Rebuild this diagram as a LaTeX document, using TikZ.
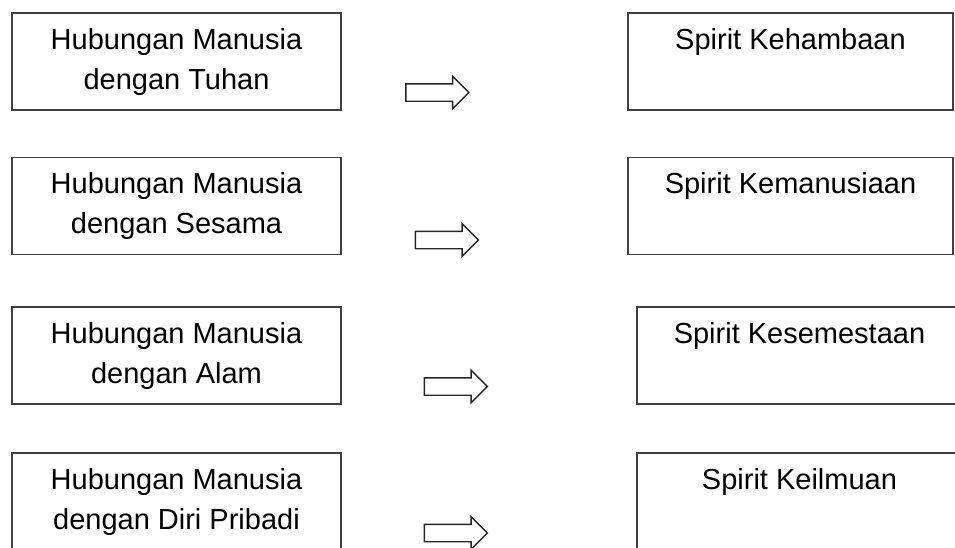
\documentclass[tikz,border=0pt]{standalone}
\usepackage{fontspec}
\setmainfont{Liberation Sans}
\usetikzlibrary{shapes.arrows}
\definecolor{boxline}{HTML}{404040}
\tikzset{
  relbox/.style={draw=boxline, line width=1.8pt, rectangle, align=center,
    minimum width=329pt, minimum height=97pt, inner sep=0pt,
    font=\fontsize{29}{40}\selectfont},
  spiritbox/.style={relbox, minimum width=325pt},
  pointer/.style={draw=black!85, line width=1.4pt, single arrow, inner sep=0pt,
    minimum height=63pt, text height=8pt, text depth=8pt,
    single arrow head extend=7.5pt}
}

\begin{document}
\begin{tikzpicture}[x=1pt, y=-1pt]
  \useasboundingbox (0,0) rectangle (955,547);
  \clip (0,0) rectangle (955,547);
  \node[relbox] (L1) at (176.5,61.5)  {Hubungan Manusia\\dengan Tuhan};
  \node[relbox] (L2) at (176.5,206)   {Hubungan Manusia\\dengan Sesama};
  \node[relbox] (L3) at (176.5,355.5) {Hubungan Manusia\\dengan Alam};
  \node[relbox] (L4) at (176.5,501.5) {Hubungan Manusia\\dengan Diri Pribadi};

  \node[spiritbox] (R1) at (790.5,61.5)  {Spirit Kehambaan\\\vphantom{g}};
  \node[spiritbox] (R2) at (790.5,206)   {Spirit Kemanusiaan\\\vphantom{g}};
  \node[spiritbox] (R3) at (799.5,355.5) {Spirit Kesemestaan\\\vphantom{g}};
  \node[spiritbox] (R4) at (799.5,501.5) {Spirit Keilmuan\\\vphantom{g}};

  \node[pointer] (P1) at (433,92.5)   {};
  \node[pointer] (P2) at (442.5,240)  {};
  \node[pointer] (P3) at (451.5,386.5) {};
  \node[pointer] (P4) at (451.5,533)  {};
\end{tikzpicture}
\end{document}
